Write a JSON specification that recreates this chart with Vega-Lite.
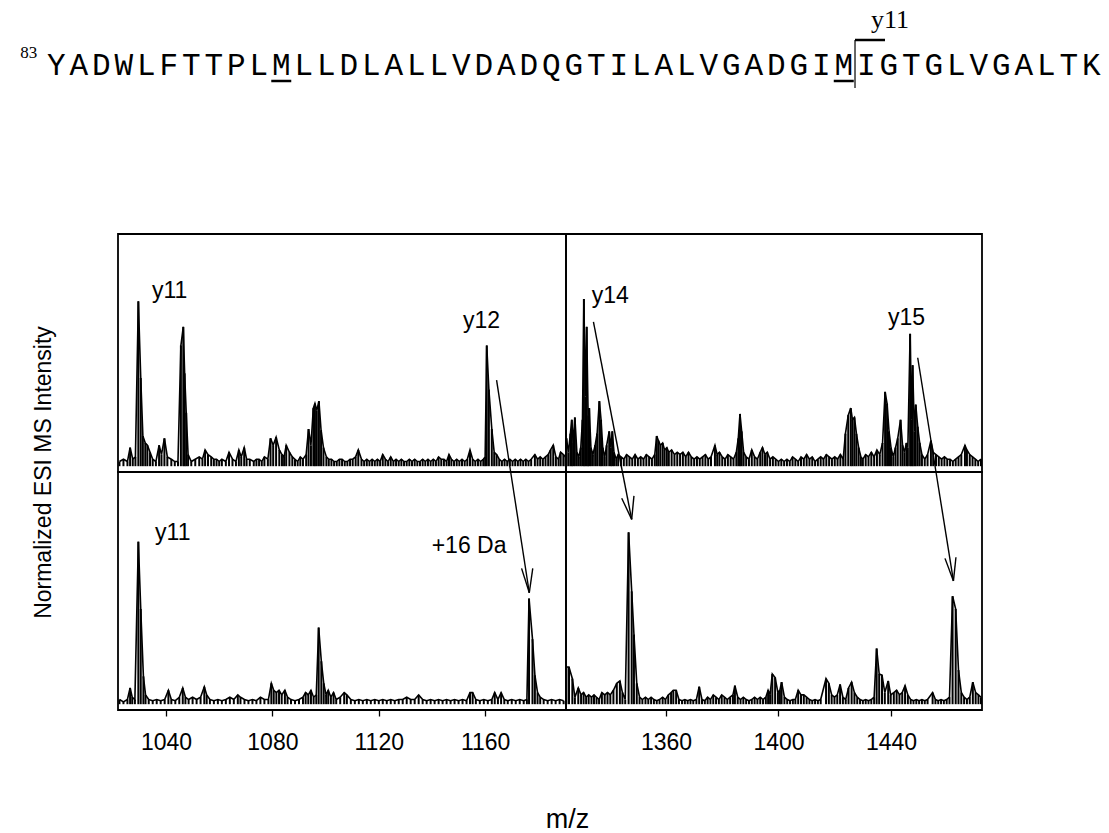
{
"$schema":"https://vega.github.io/schema/vega-lite/v6.json",
"background":"white",
"padding":{"left":20,"top":0,"right":4,"bottom":8},
"autosize":{"type":"pad"},
"config":{"font":"Liberation Sans","view":{"stroke":"black","strokeWidth":1.8}},
"bounds":"flush",
"spacing":134,
"datasets":{
"seq":[{"r":83,"aa":"Y"},{"r":84,"aa":"A"},{"r":85,"aa":"D"},{"r":86,"aa":"W"},{"r":87,"aa":"L"},{"r":88,"aa":"F"},{"r":89,"aa":"T"},{"r":90,"aa":"T"},{"r":91,"aa":"P"},{"r":92,"aa":"L"},{"r":93,"aa":"M"},{"r":94,"aa":"L"},{"r":95,"aa":"L"},{"r":96,"aa":"D"},{"r":97,"aa":"L"},{"r":98,"aa":"A"},{"r":99,"aa":"L"},{"r":100,"aa":"L"},{"r":101,"aa":"V"},{"r":102,"aa":"D"},{"r":103,"aa":"A"},{"r":104,"aa":"D"},{"r":105,"aa":"Q"},{"r":106,"aa":"G"},{"r":107,"aa":"T"},{"r":108,"aa":"I"},{"r":109,"aa":"L"},{"r":110,"aa":"A"},{"r":111,"aa":"L"},{"r":112,"aa":"V"},{"r":113,"aa":"G"},{"r":114,"aa":"A"},{"r":115,"aa":"D"},{"r":116,"aa":"G"},{"r":117,"aa":"I"},{"r":118,"aa":"M"},{"r":119,"aa":"I"},{"r":120,"aa":"G"},{"r":121,"aa":"T"},{"r":122,"aa":"G"},{"r":123,"aa":"L"},{"r":124,"aa":"V"},{"r":125,"aa":"G"},{"r":126,"aa":"A"},{"r":127,"aa":"L"},{"r":128,"aa":"T"},{"r":129,"aa":"K"}],
"cut":[{"cut":118.5,"ion":"y11"}],
"lab":[{"p":"TL","x":1034.7,"y":72.4,"t":"y11"},{"p":"TL","x":1151.7,"y":59.5,"t":"y12"},{"p":"TR","x":1333.6,"y":70.3,"t":"y14"},{"p":"TR","x":1438.9,"y":60.8,"t":"y15"},{"p":"BL","x":1035.9,"y":70.7,"t":"y11"},{"p":"BL","x":1139.9,"y":65.1,"t":"+16 Da"}],
"arr":[{"p":"TL","x":1164.3,"y":37.1,"x2":1169.6,"y2":-2.5},{"p":"BL","x":1169.6,"y":100,"x2":1176.6,"y2":48.0},{"p":"BL","x":1173.7,"y":58.5,"x2":1176.6,"y2":48.0},{"p":"BL","x":1177.9,"y":58.5,"x2":1176.6,"y2":48.0},{"p":"TR","x":1334.2,"y":62.2,"x2":1344.5,"y2":-2.5},{"p":"TR","x":1449.5,"y":46.7,"x2":1456.0,"y2":-2.5},{"p":"BR","x":1344.5,"y":100,"x2":1347.8,"y2":79.6},{"p":"BR","x":1344.25,"y":88.7,"x2":1347.8,"y2":79.6},{"p":"BR","x":1348.6,"y":89.7,"x2":1347.8,"y2":79.6},{"p":"BR","x":1456.0,"y":100,"x2":1462.2,"y2":53.1},{"p":"BR","x":1459.2,"y":62.8,"x2":1462.2,"y2":53.1},{"p":"BR","x":1463.1,"y":63.3,"x2":1462.2,"y2":53.1}],
"spec":[
{"p":"TL","x":1022.5,"y":2},{"p":"TL","x":1024,"y":3},{"p":"TL","x":1025.5,"y":2},{"p":"TL","x":1026.5,"y":8},{"p":"TL","x":1027.5,"y":3},{"p":"TL","x":1028.5,"y":4},{"p":"TL","x":1029.6,"y":71},{"p":"TL","x":1030.5,"y":38},{"p":"TL","x":1031.3,"y":13},{"p":"TL","x":1032.2,"y":10},{"p":"TL","x":1033,"y":9},{"p":"TL","x":1034,"y":6},{"p":"TL","x":1035,"y":3},{"p":"TL","x":1036.2,"y":2},{"p":"TL","x":1037.4,"y":9},{"p":"TL","x":1038.3,"y":5},{"p":"TL","x":1039.4,"y":12},{"p":"TL","x":1040.5,"y":4},{"p":"TL","x":1042,"y":3},{"p":"TL","x":1043.3,"y":2},{"p":"TL","x":1044.5,"y":2},{"p":"TL","x":1045.6,"y":52},{"p":"TL","x":1046.5,"y":60},{"p":"TL","x":1047,"y":40},{"p":"TL","x":1047.6,"y":23},{"p":"TL","x":1048.3,"y":5},{"p":"TL","x":1049.5,"y":2},{"p":"TL","x":1051,"y":3},{"p":"TL","x":1052.5,"y":4},{"p":"TL","x":1053.7,"y":3},{"p":"TL","x":1054.7,"y":7},{"p":"TL","x":1055.8,"y":5},{"p":"TL","x":1057,"y":4},{"p":"TL","x":1058,"y":3},{"p":"TL","x":1059,"y":3},{"p":"TL","x":1060,"y":2},{"p":"TL","x":1061,"y":3},{"p":"TL","x":1062.5,"y":2},{"p":"TL","x":1063.7,"y":6},{"p":"TL","x":1065,"y":3},{"p":"TL","x":1066.3,"y":2},{"p":"TL","x":1067.4,"y":7},{"p":"TL","x":1068.3,"y":4},{"p":"TL","x":1069.4,"y":8},{"p":"TL","x":1070.3,"y":3},{"p":"TL","x":1071.5,"y":3},{"p":"TL","x":1073,"y":2},{"p":"TL","x":1074,"y":3},{"p":"TL","x":1075,"y":3},{"p":"TL","x":1076,"y":2},{"p":"TL","x":1077,"y":4},{"p":"TL","x":1078.3,"y":3},{"p":"TL","x":1079.3,"y":12},{"p":"TL","x":1080.3,"y":9},{"p":"TL","x":1081.4,"y":12.5},{"p":"TL","x":1082.6,"y":7},{"p":"TL","x":1083.6,"y":5},{"p":"TL","x":1084.4,"y":4},{"p":"TL","x":1085.2,"y":9},{"p":"TL","x":1086.4,"y":6},{"p":"TL","x":1087.5,"y":4},{"p":"TL","x":1088.5,"y":3},{"p":"TL","x":1089.5,"y":2},{"p":"TL","x":1090.5,"y":4},{"p":"TL","x":1091.5,"y":3},{"p":"TL","x":1092.7,"y":5},{"p":"TL","x":1093.6,"y":16},{"p":"TL","x":1094.5,"y":9},{"p":"TL","x":1095.4,"y":25},{"p":"TL","x":1096,"y":27},{"p":"TL","x":1096.7,"y":24},{"p":"TL","x":1097.5,"y":28},{"p":"TL","x":1098.3,"y":15.5},{"p":"TL","x":1099.2,"y":8},{"p":"TL","x":1100.3,"y":4},{"p":"TL","x":1101.2,"y":3},{"p":"TL","x":1102.2,"y":3},{"p":"TL","x":1103.2,"y":2},{"p":"TL","x":1104.2,"y":2},{"p":"TL","x":1105.2,"y":3},{"p":"TL","x":1106.2,"y":3},{"p":"TL","x":1107.2,"y":2},{"p":"TL","x":1108.2,"y":2},{"p":"TL","x":1109.2,"y":3},{"p":"TL","x":1110.2,"y":3},{"p":"TL","x":1111.3,"y":4},{"p":"TL","x":1112.3,"y":7},{"p":"TL","x":1113.5,"y":3},{"p":"TL","x":1114.5,"y":2},{"p":"TL","x":1115.5,"y":3},{"p":"TL","x":1116.5,"y":2},{"p":"TL","x":1117.5,"y":3},{"p":"TL","x":1118.5,"y":2},{"p":"TL","x":1119.5,"y":3},{"p":"TL","x":1120.5,"y":2},{"p":"TL","x":1121.5,"y":5},{"p":"TL","x":1122.5,"y":3},{"p":"TL","x":1123.5,"y":2},{"p":"TL","x":1124.5,"y":4},{"p":"TL","x":1125.5,"y":2},{"p":"TL","x":1126.5,"y":3},{"p":"TL","x":1127.5,"y":2},{"p":"TL","x":1128.5,"y":3},{"p":"TL","x":1129.5,"y":2},{"p":"TL","x":1130.5,"y":2},{"p":"TL","x":1131.5,"y":3},{"p":"TL","x":1132.5,"y":2},{"p":"TL","x":1133.5,"y":3},{"p":"TL","x":1134.5,"y":2},{"p":"TL","x":1135.5,"y":2},{"p":"TL","x":1136.5,"y":3},{"p":"TL","x":1137.5,"y":2},{"p":"TL","x":1138.5,"y":3},{"p":"TL","x":1139.5,"y":2},{"p":"TL","x":1140.5,"y":3},{"p":"TL","x":1141.5,"y":2},{"p":"TL","x":1142.5,"y":4},{"p":"TL","x":1143.5,"y":3},{"p":"TL","x":1144.5,"y":3},{"p":"TL","x":1145.5,"y":2},{"p":"TL","x":1146.4,"y":5},{"p":"TL","x":1147.3,"y":3},{"p":"TL","x":1148.3,"y":2},{"p":"TL","x":1149.3,"y":3},{"p":"TL","x":1150.3,"y":2},{"p":"TL","x":1151.3,"y":3},{"p":"TL","x":1152.3,"y":2},{"p":"TL","x":1153.3,"y":3},{"p":"TL","x":1154.3,"y":7},{"p":"TL","x":1155.3,"y":3},{"p":"TL","x":1156.3,"y":2},{"p":"TL","x":1157.3,"y":3},{"p":"TL","x":1158.3,"y":2},{"p":"TL","x":1159.3,"y":3},{"p":"TL","x":1160,"y":4},{"p":"TL","x":1160.6,"y":52},{"p":"TL","x":1161.4,"y":33},{"p":"TL","x":1162.5,"y":16},{"p":"TL","x":1163.4,"y":6},{"p":"TL","x":1164.3,"y":5},{"p":"TL","x":1165.3,"y":3},{"p":"TL","x":1166.3,"y":2},{"p":"TL","x":1167.3,"y":3},{"p":"TL","x":1168.3,"y":2},{"p":"TL","x":1169.3,"y":3},{"p":"TL","x":1170.3,"y":2},{"p":"TL","x":1171.3,"y":3},{"p":"TL","x":1172.3,"y":2},{"p":"TL","x":1173.3,"y":3},{"p":"TL","x":1174.3,"y":2},{"p":"TL","x":1175.3,"y":3},{"p":"TL","x":1176.3,"y":2},{"p":"TL","x":1177.3,"y":3},{"p":"TL","x":1178.7,"y":5},{"p":"TL","x":1179.7,"y":3},{"p":"TL","x":1180.7,"y":4},{"p":"TL","x":1181.7,"y":3},{"p":"TL","x":1182.7,"y":4},{"p":"TL","x":1183.7,"y":5},{"p":"TL","x":1184.6,"y":7},{"p":"TL","x":1185.6,"y":9},{"p":"TL","x":1186.6,"y":4},{"p":"TL","x":1187.6,"y":3},{"p":"TL","x":1188.4,"y":6},{"p":"TL","x":1189.4,"y":5},{"p":"TL","x":1190.2,"y":4},
{"p":"TR","x":1324.6,"y":12},{"p":"TR","x":1325.3,"y":6},{"p":"TR","x":1326,"y":14},{"p":"TR","x":1326.5,"y":20},{"p":"TR","x":1327,"y":10},{"p":"TR","x":1327.6,"y":21},{"p":"TR","x":1328.3,"y":6},{"p":"TR","x":1329,"y":4},{"p":"TR","x":1329.7,"y":8},{"p":"TR","x":1330.3,"y":20},{"p":"TR","x":1330.8,"y":72},{"p":"TR","x":1331.3,"y":30},{"p":"TR","x":1331.8,"y":60},{"p":"TR","x":1332.3,"y":22},{"p":"TR","x":1332.7,"y":25},{"p":"TR","x":1333.3,"y":8},{"p":"TR","x":1334,"y":5},{"p":"TR","x":1334.8,"y":9},{"p":"TR","x":1335.5,"y":14},{"p":"TR","x":1336.3,"y":28},{"p":"TR","x":1336.9,"y":20},{"p":"TR","x":1337.5,"y":8},{"p":"TR","x":1338.2,"y":4},{"p":"TR","x":1338.9,"y":9},{"p":"TR","x":1339.8,"y":15},{"p":"TR","x":1340.4,"y":8},{"p":"TR","x":1340.9,"y":15},{"p":"TR","x":1341.5,"y":6},{"p":"TR","x":1342.3,"y":3},{"p":"TR","x":1343,"y":5},{"p":"TR","x":1344,"y":4},{"p":"TR","x":1345,"y":3},{"p":"TR","x":1346,"y":5},{"p":"TR","x":1347,"y":4},{"p":"TR","x":1348,"y":3},{"p":"TR","x":1349,"y":5},{"p":"TR","x":1350,"y":3},{"p":"TR","x":1351,"y":4},{"p":"TR","x":1352,"y":3},{"p":"TR","x":1353,"y":5},{"p":"TR","x":1354,"y":4},{"p":"TR","x":1355,"y":3},{"p":"TR","x":1356,"y":5},{"p":"TR","x":1356.7,"y":13},{"p":"TR","x":1357.3,"y":11},{"p":"TR","x":1358,"y":9},{"p":"TR","x":1358.8,"y":10},{"p":"TR","x":1359.5,"y":7},{"p":"TR","x":1360.3,"y":8},{"p":"TR","x":1361,"y":6},{"p":"TR","x":1362,"y":7},{"p":"TR","x":1363,"y":5},{"p":"TR","x":1364,"y":6},{"p":"TR","x":1365,"y":5},{"p":"TR","x":1366,"y":6},{"p":"TR","x":1367,"y":4},{"p":"TR","x":1368,"y":6},{"p":"TR","x":1369,"y":4},{"p":"TR","x":1370,"y":3},{"p":"TR","x":1371,"y":4},{"p":"TR","x":1372,"y":3},{"p":"TR","x":1373,"y":4},{"p":"TR","x":1374,"y":5},{"p":"TR","x":1375,"y":3},{"p":"TR","x":1376,"y":4},{"p":"TR","x":1377.4,"y":9},{"p":"TR","x":1378.2,"y":5},{"p":"TR","x":1379,"y":6},{"p":"TR","x":1380,"y":4},{"p":"TR","x":1381,"y":3},{"p":"TR","x":1382,"y":5},{"p":"TR","x":1383,"y":4},{"p":"TR","x":1384,"y":3},{"p":"TR","x":1385,"y":6},{"p":"TR","x":1385.7,"y":12},{"p":"TR","x":1386.3,"y":22.5},{"p":"TR","x":1386.9,"y":15},{"p":"TR","x":1387.6,"y":6},{"p":"TR","x":1388.5,"y":4},{"p":"TR","x":1389.5,"y":3},{"p":"TR","x":1390.5,"y":7},{"p":"TR","x":1391.5,"y":4},{"p":"TR","x":1392.5,"y":3},{"p":"TR","x":1393.5,"y":6},{"p":"TR","x":1394.3,"y":8},{"p":"TR","x":1395.2,"y":5},{"p":"TR","x":1396,"y":6},{"p":"TR","x":1397,"y":3},{"p":"TR","x":1398,"y":4},{"p":"TR","x":1399,"y":3},{"p":"TR","x":1400,"y":2},{"p":"TR","x":1401,"y":3},{"p":"TR","x":1402,"y":2},{"p":"TR","x":1403,"y":3},{"p":"TR","x":1404,"y":2},{"p":"TR","x":1405,"y":4},{"p":"TR","x":1406,"y":3},{"p":"TR","x":1407,"y":2},{"p":"TR","x":1408,"y":4},{"p":"TR","x":1409,"y":3},{"p":"TR","x":1410,"y":5},{"p":"TR","x":1411,"y":3},{"p":"TR","x":1412,"y":4},{"p":"TR","x":1413,"y":2},{"p":"TR","x":1414,"y":3},{"p":"TR","x":1415,"y":4},{"p":"TR","x":1416,"y":3},{"p":"TR","x":1417,"y":5},{"p":"TR","x":1418,"y":4},{"p":"TR","x":1419,"y":3},{"p":"TR","x":1420,"y":4},{"p":"TR","x":1421,"y":3},{"p":"TR","x":1422,"y":5},{"p":"TR","x":1423,"y":3},{"p":"TR","x":1423.8,"y":14},{"p":"TR","x":1424.8,"y":22},{"p":"TR","x":1425.7,"y":25},{"p":"TR","x":1426.3,"y":20},{"p":"TR","x":1427,"y":21},{"p":"TR","x":1427.7,"y":14},{"p":"TR","x":1428.5,"y":8},{"p":"TR","x":1429.3,"y":4},{"p":"TR","x":1430,"y":3},{"p":"TR","x":1431,"y":5},{"p":"TR","x":1432,"y":4},{"p":"TR","x":1433,"y":6},{"p":"TR","x":1434,"y":4},{"p":"TR","x":1435,"y":7},{"p":"TR","x":1436,"y":5},{"p":"TR","x":1437,"y":10},{"p":"TR","x":1437.9,"y":32},{"p":"TR","x":1438.6,"y":27},{"p":"TR","x":1439.3,"y":15},{"p":"TR","x":1440,"y":8},{"p":"TR","x":1440.8,"y":4},{"p":"TR","x":1441.6,"y":8},{"p":"TR","x":1442.4,"y":12},{"p":"TR","x":1443.4,"y":20},{"p":"TR","x":1444.1,"y":9},{"p":"TR","x":1444.8,"y":6},{"p":"TR","x":1445.5,"y":10},{"p":"TR","x":1446,"y":8},{"p":"TR","x":1446.8,"y":57},{"p":"TR","x":1447.3,"y":20},{"p":"TR","x":1447.7,"y":43.5},{"p":"TR","x":1448.3,"y":15},{"p":"TR","x":1448.8,"y":26.5},{"p":"TR","x":1449.5,"y":17},{"p":"TR","x":1450.2,"y":10},{"p":"TR","x":1451,"y":5},{"p":"TR","x":1452,"y":3},{"p":"TR","x":1453,"y":5},{"p":"TR","x":1454.2,"y":11},{"p":"TR","x":1455,"y":6},{"p":"TR","x":1456,"y":5},{"p":"TR","x":1457,"y":4},{"p":"TR","x":1458,"y":3},{"p":"TR","x":1459,"y":4},{"p":"TR","x":1460,"y":3},{"p":"TR","x":1461,"y":3},{"p":"TR","x":1462,"y":2},{"p":"TR","x":1463,"y":3},{"p":"TR","x":1464,"y":4},{"p":"TR","x":1465,"y":5},{"p":"TR","x":1466.3,"y":9},{"p":"TR","x":1467,"y":7},{"p":"TR","x":1468,"y":5},{"p":"TR","x":1469,"y":4},{"p":"TR","x":1470,"y":3},{"p":"TR","x":1471,"y":2},{"p":"TR","x":1472,"y":3},
{"p":"BL","x":1022.5,"y":2},{"p":"BL","x":1024,"y":1},{"p":"BL","x":1025.5,"y":2},{"p":"BL","x":1026.5,"y":7},{"p":"BL","x":1027.3,"y":3},{"p":"BL","x":1028.3,"y":2},{"p":"BL","x":1029.6,"y":70},{"p":"BL","x":1030.5,"y":41},{"p":"BL","x":1031.5,"y":12},{"p":"BL","x":1032.3,"y":4},{"p":"BL","x":1033.5,"y":2},{"p":"BL","x":1035,"y":1.5},{"p":"BL","x":1036.5,"y":2},{"p":"BL","x":1038,"y":1.5},{"p":"BL","x":1039.5,"y":2},{"p":"BL","x":1040.9,"y":6},{"p":"BL","x":1042,"y":2},{"p":"BL","x":1043.5,"y":1.5},{"p":"BL","x":1045,"y":3},{"p":"BL","x":1046.3,"y":7},{"p":"BL","x":1047.3,"y":3},{"p":"BL","x":1048.5,"y":2},{"p":"BL","x":1050,"y":3},{"p":"BL","x":1051.5,"y":2},{"p":"BL","x":1053,"y":3},{"p":"BL","x":1054.4,"y":7.5},{"p":"BL","x":1055.3,"y":4},{"p":"BL","x":1056.5,"y":2},{"p":"BL","x":1058,"y":1.5},{"p":"BL","x":1059.5,"y":2},{"p":"BL","x":1061,"y":1.5},{"p":"BL","x":1062.5,"y":2},{"p":"BL","x":1064,"y":3},{"p":"BL","x":1065.5,"y":2},{"p":"BL","x":1067,"y":4},{"p":"BL","x":1068,"y":3},{"p":"BL","x":1069.5,"y":2},{"p":"BL","x":1071,"y":1.5},{"p":"BL","x":1072.5,"y":2},{"p":"BL","x":1074,"y":1.5},{"p":"BL","x":1075.5,"y":3},{"p":"BL","x":1077,"y":2},{"p":"BL","x":1078.5,"y":2},{"p":"BL","x":1079.6,"y":9},{"p":"BL","x":1080.5,"y":6},{"p":"BL","x":1081.5,"y":5},{"p":"BL","x":1082.5,"y":6},{"p":"BL","x":1083.5,"y":4},{"p":"BL","x":1084.7,"y":6},{"p":"BL","x":1085.7,"y":3},{"p":"BL","x":1087,"y":2},{"p":"BL","x":1088.5,"y":1.5},{"p":"BL","x":1090,"y":2},{"p":"BL","x":1091.5,"y":3},{"p":"BL","x":1092.5,"y":5},{"p":"BL","x":1093.5,"y":4},{"p":"BL","x":1094.5,"y":6},{"p":"BL","x":1095.5,"y":3},{"p":"BL","x":1096.5,"y":4},{"p":"BL","x":1097.4,"y":33},{"p":"BL","x":1098.4,"y":18.5},{"p":"BL","x":1099.3,"y":9},{"p":"BL","x":1100.2,"y":4},{"p":"BL","x":1101,"y":6},{"p":"BL","x":1102,"y":3},{"p":"BL","x":1103,"y":5},{"p":"BL","x":1104,"y":2},{"p":"BL","x":1105.5,"y":3},{"p":"BL","x":1107,"y":5},{"p":"BL","x":1108,"y":4},{"p":"BL","x":1109.5,"y":2},{"p":"BL","x":1111,"y":1.5},{"p":"BL","x":1112.5,"y":2},{"p":"BL","x":1114,"y":1.5},{"p":"BL","x":1115.5,"y":2},{"p":"BL","x":1117,"y":1.5},{"p":"BL","x":1118.5,"y":2},{"p":"BL","x":1120,"y":1.5},{"p":"BL","x":1121.5,"y":2},{"p":"BL","x":1123,"y":1.5},{"p":"BL","x":1124.5,"y":2},{"p":"BL","x":1126,"y":1.5},{"p":"BL","x":1127.5,"y":2},{"p":"BL","x":1129,"y":2},{"p":"BL","x":1130.5,"y":3},{"p":"BL","x":1132,"y":2},{"p":"BL","x":1133.5,"y":2},{"p":"BL","x":1135,"y":4},{"p":"BL","x":1136.5,"y":2},{"p":"BL","x":1138,"y":1.5},{"p":"BL","x":1139.5,"y":2},{"p":"BL","x":1141,"y":1.5},{"p":"BL","x":1142.5,"y":2},{"p":"BL","x":1144,"y":1.5},{"p":"BL","x":1145.5,"y":2},{"p":"BL","x":1147,"y":1.5},{"p":"BL","x":1148.5,"y":2},{"p":"BL","x":1150,"y":1.5},{"p":"BL","x":1151.5,"y":2},{"p":"BL","x":1153,"y":1.5},{"p":"BL","x":1154.3,"y":5},{"p":"BL","x":1155.3,"y":5},{"p":"BL","x":1156.5,"y":2},{"p":"BL","x":1158,"y":1.5},{"p":"BL","x":1159.5,"y":2},{"p":"BL","x":1161,"y":1.5},{"p":"BL","x":1162.5,"y":2},{"p":"BL","x":1163.6,"y":5},{"p":"BL","x":1164.8,"y":2},{"p":"BL","x":1166,"y":5},{"p":"BL","x":1167.2,"y":2},{"p":"BL","x":1168.5,"y":1.5},{"p":"BL","x":1170,"y":2},{"p":"BL","x":1171.5,"y":1.5},{"p":"BL","x":1173,"y":2},{"p":"BL","x":1174.5,"y":1.5},{"p":"BL","x":1175.7,"y":2},{"p":"BL","x":1176.5,"y":45.5},{"p":"BL","x":1177.8,"y":28},{"p":"BL","x":1178.7,"y":12.5},{"p":"BL","x":1179.7,"y":5},{"p":"BL","x":1180.7,"y":3},{"p":"BL","x":1182,"y":2},{"p":"BL","x":1183.5,"y":1.5},{"p":"BL","x":1185,"y":2},{"p":"BL","x":1186.5,"y":1.5},{"p":"BL","x":1188,"y":2},{"p":"BL","x":1189.5,"y":1.5},
{"p":"BR","x":1324.6,"y":16},{"p":"BR","x":1325.5,"y":16},{"p":"BR","x":1326.7,"y":11},{"p":"BR","x":1327.6,"y":3},{"p":"BR","x":1328.8,"y":7},{"p":"BR","x":1329.8,"y":4},{"p":"BR","x":1330.7,"y":5},{"p":"BR","x":1331.6,"y":3},{"p":"BR","x":1332.5,"y":4},{"p":"BR","x":1333.5,"y":3},{"p":"BR","x":1334.4,"y":4},{"p":"BR","x":1335.3,"y":3},{"p":"BR","x":1336.2,"y":2},{"p":"BR","x":1337.2,"y":5},{"p":"BR","x":1338.2,"y":4},{"p":"BR","x":1339.2,"y":5},{"p":"BR","x":1340.2,"y":4},{"p":"BR","x":1341.3,"y":6},{"p":"BR","x":1342.5,"y":9},{"p":"BR","x":1343.6,"y":10},{"p":"BR","x":1344.5,"y":5},{"p":"BR","x":1345.5,"y":2},{"p":"BR","x":1346.7,"y":74},{"p":"BR","x":1347.8,"y":48.6},{"p":"BR","x":1348.6,"y":30},{"p":"BR","x":1349.6,"y":9},{"p":"BR","x":1350.6,"y":3},{"p":"BR","x":1351.6,"y":2},{"p":"BR","x":1352.7,"y":3},{"p":"BR","x":1353.7,"y":2},{"p":"BR","x":1354.7,"y":3},{"p":"BR","x":1355.7,"y":2},{"p":"BR","x":1356.7,"y":1.5},{"p":"BR","x":1357.7,"y":2},{"p":"BR","x":1358.8,"y":3},{"p":"BR","x":1359.8,"y":2},{"p":"BR","x":1360.8,"y":4},{"p":"BR","x":1361.8,"y":5},{"p":"BR","x":1362.6,"y":6},{"p":"BR","x":1363.6,"y":6},{"p":"BR","x":1364.6,"y":2},{"p":"BR","x":1365.7,"y":1.5},{"p":"BR","x":1366.7,"y":2},{"p":"BR","x":1367.7,"y":1.5},{"p":"BR","x":1368.7,"y":2},{"p":"BR","x":1369.7,"y":1.5},{"p":"BR","x":1370.8,"y":2},{"p":"BR","x":1371.8,"y":7.5},{"p":"BR","x":1372.8,"y":2},{"p":"BR","x":1373.8,"y":1.5},{"p":"BR","x":1374.8,"y":3},{"p":"BR","x":1375.8,"y":2},{"p":"BR","x":1376.8,"y":4},{"p":"BR","x":1377.8,"y":3},{"p":"BR","x":1378.8,"y":2},{"p":"BR","x":1379.8,"y":4},{"p":"BR","x":1380.8,"y":3},{"p":"BR","x":1381.8,"y":2},{"p":"BR","x":1382.8,"y":3},{"p":"BR","x":1383.8,"y":4},{"p":"BR","x":1384.5,"y":8},{"p":"BR","x":1385.5,"y":3},{"p":"BR","x":1386.5,"y":2},{"p":"BR","x":1387.5,"y":3},{"p":"BR","x":1388.5,"y":2},{"p":"BR","x":1389.5,"y":1.5},{"p":"BR","x":1390.5,"y":2},{"p":"BR","x":1391.5,"y":3},{"p":"BR","x":1392.5,"y":2},{"p":"BR","x":1393.5,"y":3},{"p":"BR","x":1394.5,"y":2},{"p":"BR","x":1395.5,"y":3},{"p":"BR","x":1396.3,"y":6},{"p":"BR","x":1397,"y":4},{"p":"BR","x":1397.8,"y":13},{"p":"BR","x":1398.8,"y":11.5},{"p":"BR","x":1399.8,"y":5},{"p":"BR","x":1400.5,"y":6},{"p":"BR","x":1401.1,"y":9.5},{"p":"BR","x":1402.1,"y":3},{"p":"BR","x":1403.1,"y":2},{"p":"BR","x":1404.1,"y":1.5},{"p":"BR","x":1405.1,"y":2},{"p":"BR","x":1406,"y":2},{"p":"BR","x":1407,"y":6},{"p":"BR","x":1408,"y":4},{"p":"BR","x":1409,"y":4},{"p":"BR","x":1410,"y":3},{"p":"BR","x":1411,"y":2},{"p":"BR","x":1412,"y":1.5},{"p":"BR","x":1413,"y":2},{"p":"BR","x":1414,"y":1.5},{"p":"BR","x":1415,"y":2},{"p":"BR","x":1416.9,"y":11},{"p":"BR","x":1417.9,"y":9},{"p":"BR","x":1418.9,"y":4},{"p":"BR","x":1419.9,"y":3},{"p":"BR","x":1420.9,"y":4},{"p":"BR","x":1421.9,"y":8.5},{"p":"BR","x":1422.9,"y":3},{"p":"BR","x":1423.9,"y":2},{"p":"BR","x":1424.9,"y":7},{"p":"BR","x":1426,"y":9.5},{"p":"BR","x":1427,"y":5},{"p":"BR","x":1428,"y":3},{"p":"BR","x":1429,"y":2},{"p":"BR","x":1430,"y":1.5},{"p":"BR","x":1431,"y":2},{"p":"BR","x":1432,"y":1.5},{"p":"BR","x":1433,"y":2},{"p":"BR","x":1434,"y":3},{"p":"BR","x":1434.9,"y":24},{"p":"BR","x":1435.8,"y":13},{"p":"BR","x":1436.8,"y":12.5},{"p":"BR","x":1437.8,"y":5},{"p":"BR","x":1439,"y":10},{"p":"BR","x":1439.9,"y":4},{"p":"BR","x":1441,"y":5},{"p":"BR","x":1442,"y":6},{"p":"BR","x":1443,"y":4},{"p":"BR","x":1444,"y":5},{"p":"BR","x":1445,"y":8},{"p":"BR","x":1446,"y":4},{"p":"BR","x":1447,"y":2},{"p":"BR","x":1448,"y":1.5},{"p":"BR","x":1449,"y":2},{"p":"BR","x":1450,"y":1.5},{"p":"BR","x":1451,"y":2},{"p":"BR","x":1452,"y":1.5},{"p":"BR","x":1453,"y":2},{"p":"BR","x":1454.8,"y":5},{"p":"BR","x":1455.8,"y":2},{"p":"BR","x":1456.8,"y":1.5},{"p":"BR","x":1457.8,"y":2},{"p":"BR","x":1458.8,"y":1.5},{"p":"BR","x":1459.8,"y":2},{"p":"BR","x":1460.8,"y":3},{"p":"BR","x":1461.9,"y":46.5},{"p":"BR","x":1463,"y":41},{"p":"BR","x":1464,"y":14.7},{"p":"BR","x":1465,"y":5},{"p":"BR","x":1466,"y":3},{"p":"BR","x":1467,"y":2},{"p":"BR","x":1468,"y":3},{"p":"BR","x":1469.1,"y":9.5},{"p":"BR","x":1470.1,"y":5},{"p":"BR","x":1471.1,"y":4},{"p":"BR","x":1472,"y":3}
]},
"vconcat":[
{"width":864,"height":100,"view":{"stroke":null},
 "encoding":{"x":{"field":"r","type":"quantitative","scale":{"domain":[85.744,124.144],"nice":false,"zero":false},"axis":null}},
 "layer":[
  {"data":{"name":"seq"},"mark":{"type":"text","font":"Liberation Mono","fontSize":31,"align":"center","baseline":"alphabetic","color":"black"},
   "encoding":{"y":{"datum":25,"type":"quantitative","scale":{"domain":[0,100],"nice":false,"zero":false},"axis":null},
    "text":{"field":"aa"},
    "fontWeight":{"condition":{"test":"datum.aa==='M'","value":"bold"},"value":"normal"}}},
  {"data":{"name":"seq"},"transform":[{"filter":"datum.aa==='M'"}],"mark":{"type":"rule","color":"black","strokeWidth":2.5,"xOffset":-10,"x2Offset":10},
   "encoding":{"x2":{"field":"r"},"y":{"datum":19,"type":"quantitative","axis":null}}},
  {"data":{"name":"seq"},"transform":[{"filter":"datum.r===83"}],"mark":{"type":"text","font":"Liberation Serif","fontSize":17,"align":"right","baseline":"alphabetic","xOffset":-19,"color":"black"},
   "encoding":{"y":{"datum":42,"type":"quantitative","axis":null},"text":{"field":"r","type":"nominal"}}},
  {"data":{"name":"cut"},"mark":{"type":"rule","color":"black","strokeWidth":1.2},
   "encoding":{"x":{"field":"cut","type":"quantitative","axis":null},"y":{"datum":60,"type":"quantitative","axis":null},"y2":{"datum":12}}},
  {"data":{"name":"cut"},"mark":{"type":"rule","color":"black","strokeWidth":2.5,"x2Offset":30},
   "encoding":{"x":{"field":"cut","type":"quantitative","axis":null},"x2":{"field":"cut"},"y":{"datum":60,"type":"quantitative","axis":null}}},
  {"data":{"name":"cut"},"mark":{"type":"text","font":"Liberation Serif","fontSize":26,"align":"center","baseline":"alphabetic","xOffset":35,"color":"black"},
   "encoding":{"x":{"field":"cut","type":"quantitative","axis":null},"y":{"datum":72,"type":"quantitative","axis":null},"text":{"field":"ion"}}}
 ]},
{"concat":[
  {"width":448,"height":238,
   "encoding":{"x":{"field":"x","type":"quantitative","scale":{"domain":[1021.95,1190.4],"nice":false,"zero":false},"axis":null},
      "y":{"field":"y","type":"quantitative","scale":{"domain":[-2.5,100],"nice":false,"zero":false},
       "axis":{"title":"Normalized ESI MS Intensity","labels":false,"ticks":false,"domain":false,"grid":false,"titleY":238,"titlePadding":63,"titleFontSize":23,"titleFontWeight":"normal","titleFont":"Liberation Sans","titleColor":"black"}}},
   "layer":[
    {"data":{"name":"spec"},"transform":[{"filter":"datum.p==='TL'"}],"mark":{"type":"rule","color":"black","strokeWidth":2},"encoding":{"y2":{"datum":0}}},
    {"data":{"name":"spec"},"transform":[{"filter":"datum.p==='TL'"}],"mark":{"type":"line","color":"black","strokeWidth":1.6},"encoding":{}},
    {"data":{"name":"arr"},"transform":[{"filter":"datum.p==='TL'"}],"mark":{"type":"rule","color":"black","strokeWidth":1.4},"encoding":{"x2":{"field":"x2"},"y2":{"field":"y2"}}},
    {"data":{"name":"lab"},"transform":[{"filter":"datum.p==='TL'"}],"mark":{"type":"text","align":"left","baseline":"alphabetic","fontSize":23,"font":"Liberation Sans","color":"black"},"encoding":{"text":{"field":"t"}}}
   ]},
  {"width":416,"height":238,
   "encoding":{"x":{"field":"x","type":"quantitative","scale":{"domain":[1324.44,1472.36],"nice":false,"zero":false},"axis":null},
      "y":{"field":"y","type":"quantitative","scale":{"domain":[-2.5,100],"nice":false,"zero":false},"axis":null}},
   "layer":[
    {"data":{"name":"spec"},"transform":[{"filter":"datum.p==='TR'"}],"mark":{"type":"rule","color":"black","strokeWidth":2},"encoding":{"y2":{"datum":0}}},
    {"data":{"name":"spec"},"transform":[{"filter":"datum.p==='TR'"}],"mark":{"type":"line","color":"black","strokeWidth":1.6},"encoding":{}},
    {"data":{"name":"arr"},"transform":[{"filter":"datum.p==='TR'"}],"mark":{"type":"rule","color":"black","strokeWidth":1.4},"encoding":{"x2":{"field":"x2"},"y2":{"field":"y2"}}},
    {"data":{"name":"lab"},"transform":[{"filter":"datum.p==='TR'"}],"mark":{"type":"text","align":"left","baseline":"alphabetic","fontSize":23,"font":"Liberation Sans","color":"black"},"encoding":{"text":{"field":"t"}}}
   ]},
  {"width":448,"height":238,
   "encoding":{"x":{"field":"x","type":"quantitative","scale":{"domain":[1021.95,1190.4],"nice":false,"zero":false},
       "axis":{"values":[1040,1080,1120,1160],"format":"d","grid":false,"domain":false,"ticks":true,"tickSize":6,"tickWidth":1.3,"tickColor":"black","labelFontSize":23,"labelFont":"Liberation Sans","labelColor":"black","labelPadding":15,"title":"m/z","titleFontSize":27,"titleFontWeight":"normal","titleFont":"Liberation Sans","titleColor":"black","titleX":449,"titleY":117,"titleBaseline":"alphabetic"}},
      "y":{"field":"y","type":"quantitative","scale":{"domain":[-2.5,100],"nice":false,"zero":false},"axis":null}},
   "layer":[
    {"data":{"name":"spec"},"transform":[{"filter":"datum.p==='BL'"}],"mark":{"type":"rule","color":"black","strokeWidth":2},"encoding":{"y2":{"datum":0}}},
    {"data":{"name":"spec"},"transform":[{"filter":"datum.p==='BL'"}],"mark":{"type":"line","color":"black","strokeWidth":1.6},"encoding":{}},
    {"data":{"name":"arr"},"transform":[{"filter":"datum.p==='BL'"}],"mark":{"type":"rule","color":"black","strokeWidth":1.4},"encoding":{"x2":{"field":"x2"},"y2":{"field":"y2"}}},
    {"data":{"name":"lab"},"transform":[{"filter":"datum.p==='BL'"}],"mark":{"type":"text","align":"left","baseline":"alphabetic","fontSize":23,"font":"Liberation Sans","color":"black"},"encoding":{"text":{"field":"t"}}}
   ]},
  {"width":416,"height":238,
   "encoding":{"x":{"field":"x","type":"quantitative","scale":{"domain":[1324.44,1472.36],"nice":false,"zero":false},
       "axis":{"values":[1360,1400,1440],"format":"d","grid":false,"domain":false,"ticks":true,"tickSize":6,"tickWidth":1.3,"tickColor":"black","labelFontSize":23,"labelFont":"Liberation Sans","labelColor":"black","labelPadding":15,"title":null}},
      "y":{"field":"y","type":"quantitative","scale":{"domain":[-2.5,100],"nice":false,"zero":false},"axis":null}},
   "layer":[
    {"data":{"name":"spec"},"transform":[{"filter":"datum.p==='BR'"}],"mark":{"type":"rule","color":"black","strokeWidth":2},"encoding":{"y2":{"datum":0}}},
    {"data":{"name":"spec"},"transform":[{"filter":"datum.p==='BR'"}],"mark":{"type":"line","color":"black","strokeWidth":1.6},"encoding":{}},
    {"data":{"name":"arr"},"transform":[{"filter":"datum.p==='BR'"}],"mark":{"type":"rule","color":"black","strokeWidth":1.4},"encoding":{"x2":{"field":"x2"},"y2":{"field":"y2"}}}
   ]}
 ],"columns":2,"spacing":0,"bounds":"flush"}
]
}
